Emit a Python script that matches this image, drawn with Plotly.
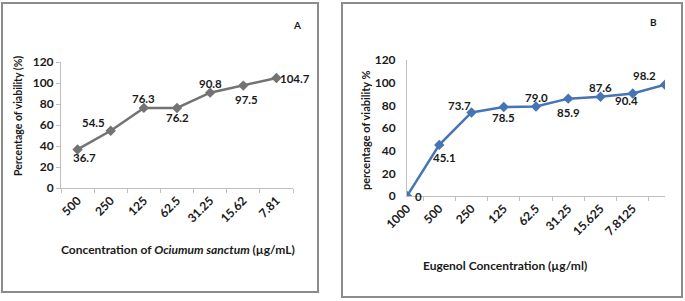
import plotly.graph_objects as go

W, H = 685, 301

# Panel A data
cats_a = ["500", "250", "125", "62.5", "31.25", "15.62", "7.81"]
vals_a = [36.7, 54.5, 76.3, 76.2, 90.8, 97.5, 104.7]
lab_a = ["36.7", "54.5", "76.3", "76.2", "90.8", "97.5", "104.7"]

# Panel B data
cats_b = ["1000", "500", "250", "125", "62.5", "31.25", "15.625", "7.8125", " "]
vals_b = [0, 45.1, 73.7, 78.5, 79.0, 85.9, 87.6, 90.4, 98.2]
lab_b = ["0", "45.1", "73.7", "78.5", "79.0", "85.9", "87.6", "90.4", "98.2"]

yticks = [0, 20, 40, 60, 80, 100, 120]

FONT = "Lato"
TXT = "#1a1a1a"

def px_x(p):
    return p / W

def px_y(p):
    return 1 - p / H

fig = go.Figure()

fig.add_trace(go.Scatter(
    x=cats_a, y=vals_a, mode="lines+markers", xaxis="x", yaxis="y",
    line=dict(color="#737373", width=2.5),
    marker=dict(symbol="diamond", size=8, color="#737373"),
    hoverinfo="skip", showlegend=False))

fig.add_trace(go.Scatter(
    x=cats_b, y=vals_b, mode="lines+markers", xaxis="x2", yaxis="y2",
    line=dict(color="#4675b5", width=2.5),
    marker=dict(symbol="diamond", size=8, color="#4675b5"),
    hoverinfo="skip", showlegend=False))

axis_common = dict(showgrid=False, zeroline=False, showline=True,
                   linecolor="#bfbfbf", linewidth=1, automargin=False,
                   tickfont=dict(family=FONT, size=12, color=TXT, weight="bold"))

fig.update_layout(
    template="none",
    width=W, height=H, margin=dict(l=0, r=0, t=0, b=0, pad=0),
    paper_bgcolor="white", plot_bgcolor="white", showlegend=False,
    xaxis=dict(domain=[px_x(61), px_x(293)], anchor="y", type="category",
               range=[-0.5, 6.5], tickson="boundaries", ticks="outside",
               ticklen=4, tickcolor="#bfbfbf", tickangle=-45, **axis_common),
    yaxis=dict(domain=[px_y(188), px_y(62)], anchor="x", range=[0, 120],
               tickvals=yticks, ticks="outside", ticklen=4,
               tickcolor="#bfbfbf", **axis_common),
    xaxis2=dict(domain=[px_x(407), px_x(665)], anchor="y2", type="category",
                range=[0, 8], tickson="boundaries", ticks="outside",
                ticklen=4, tickcolor="#bfbfbf", tickangle=-45, **axis_common),
    yaxis2=dict(domain=[px_y(196), px_y(60)], anchor="x2", range=[0, 120],
                tickvals=yticks, ticks="outside", ticklen=8,
                tickcolor="rgba(0,0,0,0)", **axis_common),
)

# frames
fig.add_shape(type="rect", xref="paper", yref="paper",
              x0=px_x(2), x1=px_x(318), y0=px_y(292), y1=px_y(3),
              line=dict(color="#8c8c8c", width=2))
fig.add_shape(type="rect", xref="paper", yref="paper",
              x0=px_x(342), x1=px_x(682), y0=px_y(297), y1=px_y(3),
              line=dict(color="#8c8c8c", width=2))

# data labels (category index positions on the category axes)
off_a = [(7, 8), (-17, -8), (0, -9), (0, 10), (0, -9), (3, 14), (19, 0)]
off_b = [(11, 0), (5, 13), (-12, -7), (0, 10), (0, -9), (0, 14), (0, -9), (-6, 7), (-21, -9)]

for i, (v, t, (dx, dy)) in enumerate(zip(vals_a, lab_a, off_a)):
    fig.add_annotation(x=i, y=v, xref="x", yref="y", text=t, showarrow=False,
                       xshift=dx, yshift=-dy,
                       font=dict(family=FONT, size=11.5, color=TXT, weight="bold"))
for i, (v, t, (dx, dy)) in enumerate(zip(vals_b, lab_b, off_b)):
    fig.add_annotation(x=i, y=v, xref="x2", yref="y2", text=t, showarrow=False,
                       xshift=dx, yshift=-dy,
                       font=dict(family=FONT, size=11.5, color=TXT, weight="bold"))

# titles
def ann(text, x, y, size=10.5, angle=0):
    fig.add_annotation(x=px_x(x), y=px_y(y), xref="paper", yref="paper",
                       text=text, showarrow=False, textangle=angle,
                       xanchor="center", yanchor="middle",
                       font=dict(family=FONT, size=size, color=TXT, weight="bold"))

ann("Concentration of <i>Ociumum sanctum</i> (µg/mL)", 178, 249, 12)
ann("Percentage of viability (%)", 18, 116, 10.5, -90)
ann("Eugenol Concentration (µg/ml)", 505, 265, 12)
ann("percentage of viability %", 366, 130, 11, -90)
ann("A", 297, 25, 10)
ann("B", 653, 22, 10)

fig.write_html(
    "out.html",
    config={"displayModeBar": False},
    post_script="document.body.style.margin='0';document.body.style.overflow='hidden';",
)
